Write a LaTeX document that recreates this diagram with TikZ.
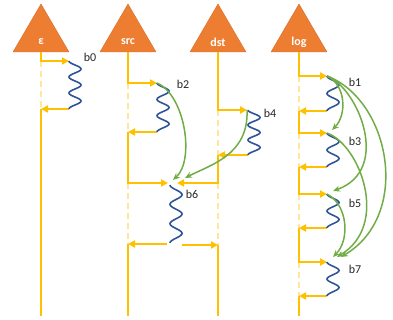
\documentclass[tikz,border=0pt]{standalone}
\usepackage{fontspec}
\setmainfont{Carlito}
\usetikzlibrary{arrows.meta}
\definecolor{yel}{HTML}{FFC000}
\definecolor{lyel}{HTML}{FFE699}
\definecolor{org}{HTML}{ED7D31}
\definecolor{blu}{HTML}{2F5597}
\definecolor{grn}{HTML}{70AD47}
\tikzset{
 tl/.style={draw=yel,line width=2pt},
 tlarrow/.style={draw=yel,line width=2pt,-{Triangle[length=7pt,width=7pt]}},
 tldash/.style={draw=lyel,line width=2pt,dash pattern=on 6pt off 4pt},
 wavy/.style={draw=blu,line width=1.6pt},
 dep/.style={draw=grn,line width=1.5pt,-{Stealth[length=7pt,width=6pt]}},
 tri/.style={fill=org,draw=org!90!black,line width=0.4pt},
 trilabel/.style={text=white,font=\fontsize{12}{14}\selectfont\bfseries,inner sep=0pt},
 blabel/.style={text=black!85,font=\fontsize{12}{14}\selectfont,inner sep=0pt},
}
\newcommand\wavebetween[4]{%
 \draw[wavy] plot[domain=0:1,samples=100,variable=\t] ({#1+6*(1-cos(360*#4*\t))},{#2+(#3-#2)*\t});}
\newcommand\procnode[3]{%
 \path[tri] (#2,4) -- (#2+28,52) -- (#2-28,52) -- cycle;
 \node[trilabel] (#1) at (#2,42) {#3};}
\begin{document}
\begin{tikzpicture}[x=1pt,y=-1pt]
\useasboundingbox (0,0) rectangle (393,320);
% processes
\procnode{peps}{41}{ε}
\procnode{psrc}{128}{src}
\procnode{pdst}{218}{dst}
\procnode{plog}{299}{log}
% ---- epsilon timeline
\coordinate (e0) at (41,52);
\coordinate (e1) at (41,61);
\coordinate (e2) at (41,109);
\coordinate (eE) at (41,316);
\coordinate (b0t) at (69,61);
\coordinate (b0b) at (69,109);
\draw[tldash] (e1) -- (e2);
\draw[tlarrow] (e0) |- (b0t);
\draw[tlarrow] (b0b) -- (e2);
\draw[tl] (e2) -- (eE);
\wavebetween{69}{61}{109}{3}
\node[blabel] (lb0) at (90,57) {b0};
% ---- src timeline
\coordinate (s0) at (128,52);
\coordinate (s1) at (128,83);
\coordinate (s2) at (128,132);
\coordinate (s3) at (128,183);
\coordinate (s4) at (128,244);
\coordinate (sE) at (128,316);
\coordinate (b2t) at (157,83);
\coordinate (b2b) at (157,132);
\coordinate (b6inl) at (168,183);
\coordinate (b6outl) at (167,244);
\draw[tldash] (s1) -- (s2);
\draw[tldash] (s3) -- (s4);
\draw[tlarrow] (s0) |- (b2t);
\draw[tlarrow] (b2b) -- (s2);
\draw[tlarrow] (s2) |- (b6inl);
\draw[tlarrow] (b6outl) -- (s4);
\draw[tl] (s4) -- (sE);
\wavebetween{157}{83}{132}{3}
\wavebetween{170}{185}{243}{3}
\node[blabel] (lb2) at (183,84) {b2};
\node[blabel] (lb6) at (192,194) {b6};
% ---- dst timeline
\coordinate (d0) at (218,52);
\coordinate (d1) at (218,110);
\coordinate (d2) at (218,155);
\coordinate (d3) at (218,183);
\coordinate (d4) at (218,245);
\coordinate (dE) at (218,316);
\coordinate (b4t) at (247,110);
\coordinate (b4b) at (248,155);
\coordinate (b6inr) at (177,183);
\coordinate (b6outr) at (182,245);
\draw[tldash] (d1) -- (d2);
\draw[tldash] (d3) -- (d4);
\draw[tlarrow] (d0) |- (b4t);
\draw[tlarrow] (b4b) -- (d2);
\draw[tlarrow] (d2) |- (b6inr);
\draw[tlarrow] (b6outr) -- (d4);
\draw[tl] (d4) -- (dE);
\wavebetween{248}{110}{155}{3}
\node[blabel] (lb4) at (270,113) {b4};
% ---- log timeline
\coordinate (l0) at (299,52);
\coordinate (l1) at (299,76);
\coordinate (l2) at (299,111);
\coordinate (l3) at (299,133);
\coordinate (l4) at (299,167);
\coordinate (l5) at (299,194);
\coordinate (l6) at (299,228);
\coordinate (l7) at (299,262);
\coordinate (l8) at (299,296);
\coordinate (lE) at (299,316);
\coordinate (b1t) at (327,76);
\coordinate (b1b) at (327,111);
\coordinate (b3t) at (327,133);
\coordinate (b3b) at (327,167);
\coordinate (b5t) at (327,194);
\coordinate (b5b) at (327,228);
\coordinate (b7t) at (327,262);
\coordinate (b7b) at (327,296);
\draw[tldash] (l1) -- (l2);
\draw[tldash] (l3) -- (l4);
\draw[tldash] (l5) -- (l6);
\draw[tldash] (l7) -- (l8);
\draw[tlarrow] (l0) |- (b1t);
\draw[tlarrow] (b1b) -- (l2);
\draw[tlarrow] (l2) |- (b3t);
\draw[tlarrow] (b3b) -- (l4);
\draw[tlarrow] (l4) |- (b5t);
\draw[tlarrow] (b5b) -- (l6);
\draw[tlarrow] (l6) |- (b7t);
\draw[tlarrow] (b7b) -- (l8);
\draw[tl] (l8) -- (lE);
\wavebetween{327}{76}{111}{2}
\wavebetween{327}{133}{167}{2}
\wavebetween{327}{194}{228}{2}
\wavebetween{327}{262}{296}{2}
\node[blabel] (lb1) at (355,82) {b1};
\node[blabel] (lb3) at (355,141) {b3};
\node[blabel] (lb5) at (355,203) {b5};
\node[blabel] (lb7) at (355,269) {b7};
% ---- dependencies
\coordinate (b6tipa) at (173,180);
\coordinate (b6tipb) at (185,178);
\coordinate (b3tip) at (332,130);
\coordinate (b5tip) at (333,191);
\coordinate (b7tipa) at (333,257);
\coordinate (b7tipb) at (337,257);
\coordinate (b7tipc) at (341,257);
\draw[dep] (b2t) .. controls (185,95) and (195,160) .. (b6tipa);
\draw[dep] (b4t) .. controls (249,155) and (210,165) .. (b6tipb);
\draw[dep] (b1t) .. controls (346,85) and (347,115) .. (b3tip);
\draw[dep] (b1t) .. controls (358,88) and (392,170) .. (b5tip);
\draw[dep] (b1t) .. controls (390,100) and (412,215) .. (b7tipc);
\draw[dep] (b3t) .. controls (360,145) and (390,225) .. (b7tipb);
\draw[dep] (b5t) .. controls (348,205) and (350,240) .. (b7tipa);
\end{tikzpicture}
\end{document}
